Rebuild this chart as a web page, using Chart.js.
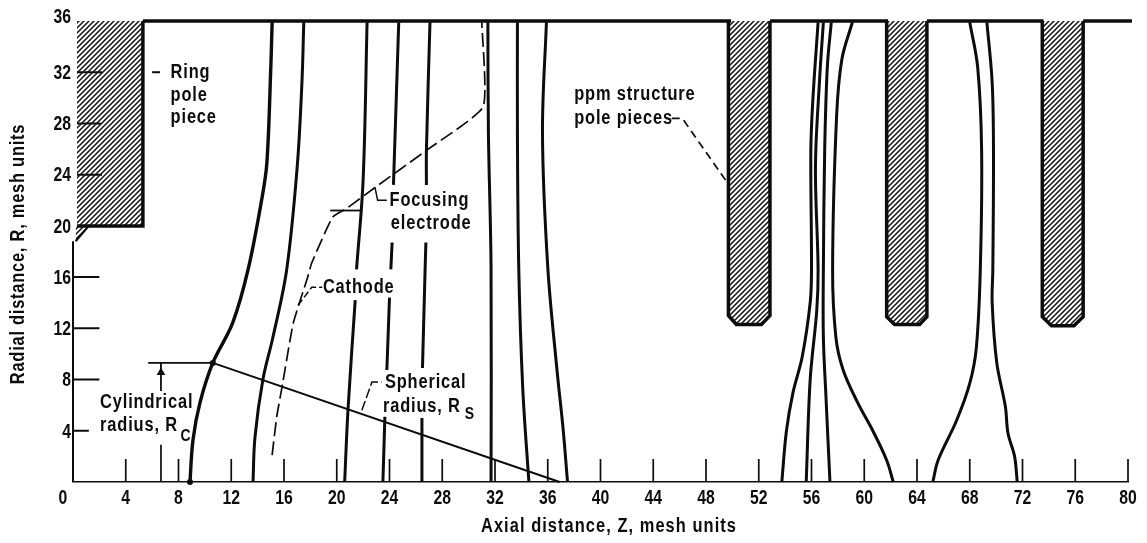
<!DOCTYPE html>
<html>
<head>
<meta charset="utf-8">
<title>Axial and radial mesh</title>
<script src="https://cdn.jsdelivr.net/npm/chart.js@4"></script>
<style>
  html, body { margin: 0; padding: 0; background: #fff; }
  #wrap { position: relative; width: 1147px; height: 543px; }
</style>
</head>
<body>
<div id="wrap"><canvas id="meshChart"></canvas></div>
<script>
// tick labels
const zTicks = [4,8,12,16,20,24,28,32,36,40,44,48,52,56,60,64,68,72,76,80];
const rLabels = [4,8,12,16,20,24,28,32,36];
const rTicks = [4,8,12,16,24,28,32];
const rTickEnds = [1.2,2,2,2,2.2,2.1,2.2];

// equipotential lines, [z, r]; null = gap under a label
const line1 = [[8.87,0],[9.1,3.3],[9.63,6.2],[10.6,9.3],[12.1,12.4],[13.27,16.56],[14.3,22],[14.7,24.9],[15,32.4],[15.1,35.9]];
const line2 = [[13.65,0],[13.8,3.5],[14.4,8],[15.16,11.3],[16.2,16.56],[17,24.6],[17.36,31.2],[17.5,35.9]];
const line4 = [[20.6,0],[20.85,5.6],[21.4,14.2],null,[21.5,16.6],[22,23.6],[22.3,35.9]];
const line5 = [[23.5,0],[23.65,5.1],null,[23.8,8.75],[24,14.4],null,[24.1,16.6],[24.2,18.7],null,[24.3,23.2],[24.7,35.9]];
const line6 = [[26.46,0],[26.46,5],null,[26.5,8.9],[26.7,16.6],[26.76,18.7],null,[26.8,23.2],[26.8,25.9],[27.07,35.9]];
const line7 = [[31.7,0],[31.7,16.8],[31.5,27.3],[31.46,35.9]];
const line8 = [[34.57,0],[34.1,7.4],[33.8,16.8],[33.7,27.3],[33.7,35.9]];
const line9 = [[37.5,0],[37.15,4.3],[36.7,8.75],[36,16.8],[35.6,27.3],[35.9,35.9]];
const line10 = [[53.75,0],[54.1,4],[54.6,7],[55.3,9.8],[55.9,14],[56,16.5],[55.95,25.9],[56.1,29.8],[56.5,35.9]];
const line11 = [[55.6,0],[55.9,8],[56.4,13.4],[56.5,16.6],[56.3,24.6],[56.6,31.2],[56.9,35.9]];
const line12 = [[57.4,0],[57.1,6.6],[56.9,11.3],[56.9,16.6],[57,25.9],[57.2,32.4],[57.5,35.9]];
const line13 = [[62.2,0],[61.7,1.7],[60.65,4],[59.5,6.2],[58.4,8.75],[57.85,11.3],[57.6,16.6],[57.9,28.5],[58.3,33],[59.1,35.9]];
const line14 = [[65.2,0],[65.6,1.7],[67,4.8],[68,7.7],[68.5,10.5],[68.8,16.6],[68.9,25.9],[68.6,32.4],[68,35.9]];
const line15 = [[71.6,0],[71.4,2],[70.9,3.8],[70.7,5.9],[70.05,9.3],[69.7,14],[69.75,16.6],[69.8,25.9],[69.7,31.2],[69.3,35.9]];
const fieldLines = [line1,line2,line4,line5,line6,line7,line8,line9,line10,line11,line12,line13,line14,line15];

// cathode + focusing electrode outline
const electrode = [[15.1,2.1],[15.45,5.1],[15.9,7.7],[16.7,12.4],[17.8,16],[18.1,17.1],[19.7,20.7],[20.8,21.4],[22.9,23],[26.8,25.9],[31.1,29.3],[31,35.9]];

// pole pieces
const ringPole = [[0.3,20],[5.3,20],[5.3,36]];
const ringChamfer = [[0.2,18.8],[1.2,20]];
const pole1 = [[49.7,36],[49.7,13],[50.3,12.3],[52.2,12.3],[52.85,13],[52.85,36]];
const pole2 = [[61.7,36],[61.7,12.9],[62.3,12.3],[64.2,12.3],[64.75,12.9],[64.75,36]];
const pole3 = [[73.5,36],[73.5,12.9],[74.2,12.2],[75.9,12.2],[76.6,12.9],[76.6,36]];
const topEdge = [[5.3,36],[49.9,36],null,[52.85,36],[61.8,36],null,[64.75,36],[73.6,36],null,[76.6,36],[80.3,36]];
const rAxis = [[0,0],[0,18.8]];

// radii and leaders
const sphericalRadius = [[10.6,9.3],[36.9,0]];
const cylindricalTop = [[5.7,9.3],[10.6,9.3]];
const cylindricalStem = [[6.67,7.1],[6.67,9.3]];
const cylindricalTick = [[6.67,0],[6.67,2.9]];
const radiusEnds = [[8.87,0],[10.6,9.3]];
const arrowTip = [[6.67,8.55]];
const focusMark = [[19.5,21.2],[21.9,21.2]];
const ringLeader = [[6,32],[6.6,32]];
const focusLeader = [[22.9,23],[23.1,22],[23.8,22]];
const cathodeLeader = [[17.06,13.8],[18.1,15.2],[18.9,15.2]];
const sphereLeader = [[21.9,5.6],[22.67,7.8],[23.4,7.8]];
const ppmLeader = [[45.4,28.4],[46.2,28.4],[49.6,23.4]];

const INK = '#0c0c0c';
const LABEL_FONT = '"Liberation Sans", sans-serif';

function toPoints(pts) {
  return pts.map(p => p ? { x: p[0], y: p[1] } : { x: NaN, y: NaN });
}

// flat list of short strokes with breaks between them
const zTickMarks = [];
zTicks.forEach(z => { zTickMarks.push([z,0],[z,1.8],null); });
const rTickMarks = [];
rTicks.forEach((r, i) => { rTickMarks.push([r >= 24 ? 0.3 : 0, r],[rTickEnds[i], r],null); });

function hatch() {
  const c = document.createElement('canvas');
  c.width = 5; c.height = 5;
  const g = c.getContext('2d');
  g.strokeStyle = '#111';
  g.lineWidth = 1.5;
  g.beginPath();
  g.moveTo(-1,1); g.lineTo(1,-1);
  g.moveTo(-1,6); g.lineTo(6,-1);
  g.moveTo(4,6); g.lineTo(6,4);
  g.stroke();
  return g.createPattern(c, 'repeat');
}
const hatchFill = hatch();

function stroke(pts, width, extra) {
  return Object.assign({
    data: toPoints(pts),
    showLine: true,
    borderColor: INK,
    backgroundColor: INK,
    borderWidth: width,
    pointRadius: 0,
    tension: 0,
    fill: false,
    clip: false
  }, extra || {});
}

// text placed in axis units
const notes = [
  ['Ring', 7.4, 32.0], ['pole', 7.4, 30.2], ['piece', 7.4, 28.5],
  ['ppm structure', 38, 30.3], ['pole pieces', 38, 28.4],
  ['Focusing', 24.0, 22.0], ['electrode', 24.1, 20.2],
  ['Cathode', 18.95, 15.2],
  ['Cylindrical', 2.05, 6.2], ['radius, R', 2.05, 4.4],
  ['Spherical', 23.65, 7.8], ['radius, R', 23.5, 5.9]
];
const subscripts = [['C', 8.15, 3.6], ['S', 29.7, 5.3]];

// no narrow face is installed, so the condensed lettering is squeezed here
function narrowText(ctx, text, x, y, sx, align) {
  ctx.save();
  ctx.translate(x, y);
  ctx.scale(sx, 1);
  ctx.textAlign = align;
  ctx.fillText(text, 0, 0);
  ctx.restore();
}

const notesPlugin = {
  id: 'notes',
  afterDatasetsDraw(chart) {
    const { ctx, scales } = chart;
    const xs = scales.x, ys = scales.y;
    ctx.save();
    ctx.fillStyle = INK;
    ctx.textBaseline = 'middle';

    // tick labels
    ctx.font = 'bold 21px ' + LABEL_FONT;
    zTicks.forEach(z => narrowText(ctx, String(z), xs.getPixelForValue(z), 498, 0.75, 'center'));
    narrowText(ctx, '0', 63, 498, 0.75, 'center');
    rLabels.forEach(r => {
      const y = ys.getPixelForValue(r);
      narrowText(ctx, String(r), 71, r === 36 ? y - 4 : y + 1, 0.75, 'right');
    });

    // annotations
    ctx.font = 'bold 20px ' + LABEL_FONT;
    ctx.letterSpacing = '1.05px';
    notes.forEach(n => narrowText(ctx, n[0], xs.getPixelForValue(n[1]), ys.getPixelForValue(n[2]), 0.82, 'left'));
    ctx.font = 'bold 17px ' + LABEL_FONT;
    subscripts.forEach(n => narrowText(ctx, n[0], xs.getPixelForValue(n[1]), ys.getPixelForValue(n[2]), 0.82, 'left'));

    // axis titles
    ctx.font = 'bold 20px ' + LABEL_FONT;
    ctx.letterSpacing = '1.3px';
    narrowText(ctx, 'Axial distance, Z, mesh units', 609, 526, 0.82, 'center');
    ctx.letterSpacing = '0.95px';
    ctx.translate(18, 254);
    ctx.rotate(-Math.PI / 2);
    narrowText(ctx, 'Radial distance, R, mesh units', 0, 0, 0.82, 'center');
    ctx.restore();
  }
};

const datasets = [];
[ringPole, pole1, pole2, pole3].forEach(p => {
  datasets.push(stroke(p, 3.5, { fill: { value: 36 }, backgroundColor: hatchFill }));
});
datasets.push(stroke(ringChamfer, 2, { fill: { value: 20 }, backgroundColor: hatchFill }));
datasets.push(stroke(topEdge, 3.5));
datasets.push(stroke(rAxis, 2));
datasets.push(stroke(zTickMarks, 1.7));
datasets.push(stroke(rTickMarks, 2));
fieldLines.forEach(l => {
  datasets.push(stroke(l, l === line1 ? 3.4 : 3, { tension: 0.35 }));
});
datasets.push(stroke(electrode, 1.7, { borderDash: [14, 5], tension: 0.15 }));
datasets.push(stroke(sphericalRadius, 2));
datasets.push(stroke(cylindricalTop, 1.8));
datasets.push(stroke(cylindricalStem, 1.8));
datasets.push(stroke(cylindricalTick, 1.7));
datasets.push(stroke(focusMark, 1.8));
datasets.push(stroke(ringLeader, 2));
datasets.push(stroke(focusLeader, 1.5));
datasets.push(stroke(cathodeLeader, 1.5, { borderDash: [7, 3] }));
datasets.push(stroke(sphereLeader, 1.5, { borderDash: [10, 3] }));
datasets.push(stroke(ppmLeader, 1.7, { borderDash: [8, 5] }));
datasets.push(stroke(radiusEnds, 0, { showLine: false, pointRadius: 3 }));
datasets.push(stroke(arrowTip, 0, { showLine: false, pointStyle: 'triangle', pointRadius: 5 }));

new Chart(document.getElementById('meshChart').getContext('2d'), {
  type: 'scatter',
  data: { datasets },
  plugins: [notesPlugin],
  options: {
    responsive: true,
    maintainAspectRatio: false,
    animation: false,
    layout: { padding: { top: 21, right: 19, bottom: 0, left: 0 } },
    plugins: { legend: { display: false }, tooltip: { enabled: false } },
    scales: {
      x: {
        type: 'linear',
        min: 0,
        max: 80,
        afterFit: s => { s.height = 61; },
        grid: { display: false, drawTicks: false },
        border: { display: true, color: INK, width: 1.5 },
        ticks: { display: false, stepSize: 4 }
      },
      y: {
        type: 'linear',
        min: 0,
        max: 36,
        afterFit: s => { s.width = 73; },
        grid: { display: false, drawTicks: false },
        border: { display: false },
        ticks: { display: false, stepSize: 4 }
      }
    }
  }
});
</script>
</body>
</html>
